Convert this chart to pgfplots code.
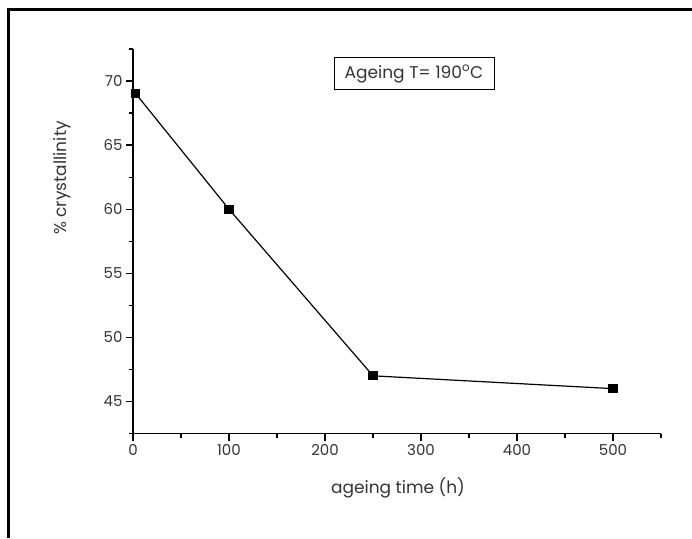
\documentclass[border=0pt]{standalone}
\usepackage{fontspec}
\setmainfont{Poppins}
\usepackage{pgfplots}
\pgfplotsset{compat=1.18}

\definecolor{txt}{HTML}{333333}

\begin{document}
\begin{tikzpicture}[x=1pt,y=1pt]
\useasboundingbox (0,0) rectangle (692,538);
% outer frame (top and left only)
\draw[line width=3pt] (8,0) -- (8,528) -- (692,528);

\begin{axis}[at={(133pt,104.5pt)},anchor=origin,scale only axis,
  width=528pt,height=384.5pt,
  xmin=0,xmax=550,ymin=42.5,ymax=72.5,
  axis x line=bottom,axis y line=left,axis line style={-,line width=1.5pt},
  tick align=outside,major tick length=7pt,minor tick length=4pt,
  every tick/.style={black,line width=1.3pt},
  xtick={0,100,...,500},minor xtick={50,150,...,550},
  ytick={45,50,...,70},minor ytick={42.5,47.5,...,72.5},
  tick label style={font=\fontsize{15}{17}\selectfont,text=txt},
  /pgf/number format/assume math mode=true,
  clip=false]
\addplot[black,line width=1.2pt,mark=square*,mark size=4pt,
  mark options={solid,fill=black}]
  coordinates {(3,69)(100,60)(250,47)(500,46)};
\end{axis}

\node[rotate=90,text=txt,font=\fontsize{17}{19}\selectfont] at (62,360) {\% crystallinity};
\node[text=txt,font=\fontsize{17}{19}\selectfont] at (398,489) {} ;
\node[text=txt,font=\fontsize{17}{19}\selectfont] at (398,50) {ageing time (h)};
\node[draw,line width=1pt,minimum width=160pt,minimum height=32pt,text=txt,
  font=\fontsize{17}{19}\selectfont] at (414,464) {Ageing T= 190\textsuperscript{o}C};
\end{tikzpicture}
\end{document}
